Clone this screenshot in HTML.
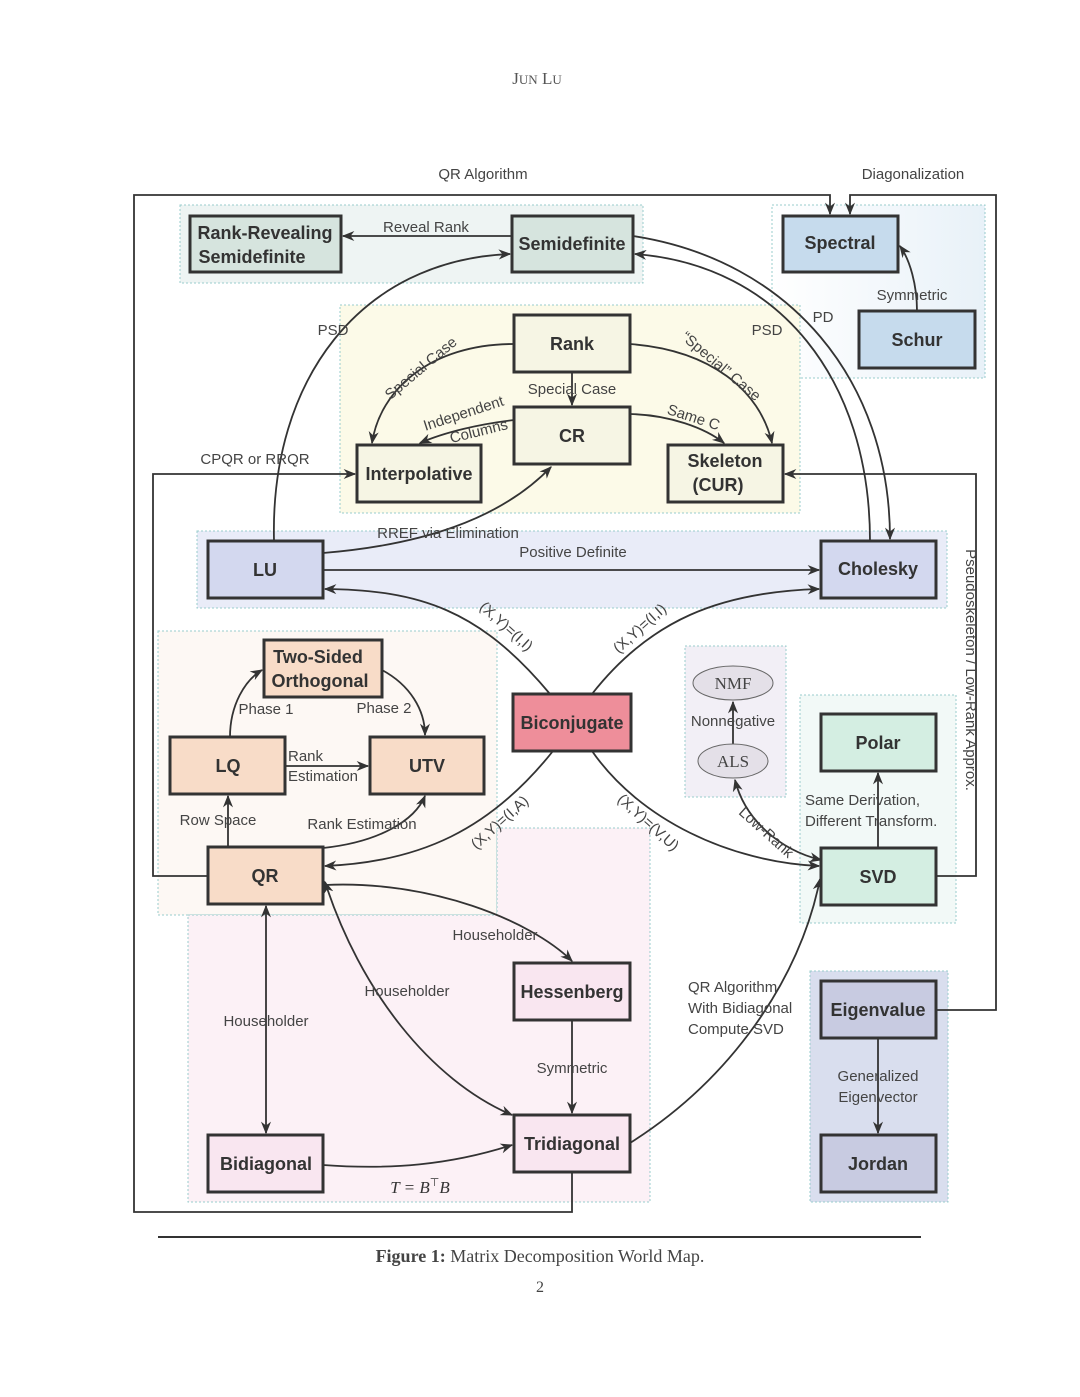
<!DOCTYPE html>
<html><head><meta charset="utf-8"><style>
html,body{margin:0;padding:0;background:#fff;}
svg{display:block;}
.n{font-family:"Liberation Sans","DejaVu Sans",sans-serif;font-weight:bold;font-size:18px;fill:#333;text-anchor:middle;}
.l{font-family:"Liberation Sans","DejaVu Sans",sans-serif;font-size:15px;fill:#444;}
.c{text-anchor:middle;}
.b{stroke:#333;stroke-width:3;}
.e{fill:none;stroke:#333;stroke-width:1.8;}
.r{stroke:#9cc;stroke-width:1;stroke-dasharray:2,2;}
</style></head><body>
<svg width="1080" height="1397" viewBox="0 0 1080 1397" xmlns="http://www.w3.org/2000/svg">
<defs>
<marker id="a" viewBox="0 0 10 10" refX="9" refY="5" markerWidth="7" markerHeight="7" orient="auto-start-reverse"><path d="M0,1 L10,5 L0,9 L3,5 z" fill="#333"/></marker>
<linearGradient id="gs" x1="0" x2="1"><stop offset="0" stop-color="#fff"/><stop offset="1" stop-color="#e8f1f8"/></linearGradient>
</defs>
<text x="537" y="84" style="font-family:'Liberation Serif',serif;font-size:17px;fill:#555" text-anchor="middle">J<tspan font-size="13">UN</tspan> L<tspan font-size="13">U</tspan></text>

<!-- regions -->
<rect x="180" y="205" width="463" height="78" fill="#eef4f3" class="r"/>
<rect x="772" y="205" width="213" height="173" fill="url(#gs)" class="r"/>
<rect x="340" y="305" width="460" height="208" fill="#fcfae8" class="r"/>
<rect x="197" y="531" width="750" height="77" fill="#e9ecf8" class="r"/>
<rect x="158" y="631" width="339" height="284" fill="#fdf8f4" class="r"/>
<path d="M497,828 H650 V1202 H188 V915 H497 Z" fill="#fcf1f6" class="r"/>
<rect x="685" y="646" width="101" height="151" fill="#f2eff6" class="r"/>
<rect x="800" y="695" width="156" height="228" fill="#f2f9f7" class="r"/>
<rect x="810" y="971" width="138" height="231" fill="#d9deee" class="r"/>

<!-- outer lines -->
<path class="e" d="M572,1172 V1212 H134 V195 H830 V214" marker-end="url(#a)"/>
<path class="e" d="M936,1010 H996 V195 H850 V214" marker-end="url(#a)"/>
<path class="e" d="M936,876 H976 V474 H785" marker-end="url(#a)"/>
<path class="e" d="M208,876 H153 V474 H355" marker-end="url(#a)"/>

<!-- edges -->
<path class="e" d="M512,236 H343" marker-end="url(#a)"/>
<path class="e" d="M274,541 C270,380 360,260 510,254" marker-end="url(#a)"/>
<path class="e" d="M633,236 C790,260 890,380 890,539" marker-end="url(#a)"/>
<path class="e" d="M870,541 C870,380 780,265 635,254" marker-end="url(#a)"/>
<path class="e" d="M917,311 C917,285 910,260 900,246" marker-end="url(#a)"/>
<path class="e" d="M514,344 C430,344 380,390 372,443" marker-end="url(#a)"/>
<path class="e" d="M572,372 V405" marker-end="url(#a)"/>
<path class="e" d="M514,420 C480,424 445,432 420,443" marker-end="url(#a)"/>
<path class="e" d="M630,344 C710,350 760,390 772,443" marker-end="url(#a)"/>
<path class="e" d="M630,414 C670,415 705,428 724,443" marker-end="url(#a)"/>
<path class="e" d="M323,553 C420,545 500,520 551,467" marker-end="url(#a)"/>
<path class="e" d="M323,570 H819" marker-end="url(#a)"/>
<path class="e" d="M550,694 C480,610 420,590 325,589" marker-end="url(#a)"/>
<path class="e" d="M592,694 C650,620 720,592 819,589" marker-end="url(#a)"/>
<path class="e" d="M553,751 C490,830 420,862 325,866" marker-end="url(#a)"/>
<path class="e" d="M592,751 C640,820 730,862 819,866" marker-end="url(#a)"/>
<path class="e" d="M230,737 C230,705 245,680 262,670" marker-end="url(#a)"/>
<path class="e" d="M382,670 C410,685 425,710 425,735" marker-end="url(#a)"/>
<path class="e" d="M285,766 H368" marker-end="url(#a)"/>
<path class="e" d="M228,847 V796" marker-end="url(#a)"/>
<path class="e" d="M323,848 C380,842 415,820 425,796" marker-end="url(#a)"/>
<path class="e" d="M325,885 C430,880 530,920 572,961" marker-end="url(#a)"/>
<path class="e" d="M325,882 C360,990 430,1080 512,1115" marker-start="url(#a)" marker-end="url(#a)"/>
<path class="e" d="M266,906 V1133" marker-start="url(#a)" marker-end="url(#a)"/>
<path class="e" d="M572,1020 V1113" marker-end="url(#a)"/>
<path class="e" d="M323,1165 C390,1170 450,1165 512,1145" marker-end="url(#a)"/>
<path class="e" d="M630,1143 C730,1080 800,980 820,879" marker-end="url(#a)"/>
<path class="e" d="M733,744 V702" marker-end="url(#a)"/>
<path class="e" d="M821,860 C780,850 745,820 735,780" marker-start="url(#a)" marker-end="url(#a)"/>
<path class="e" d="M878,848 V773" marker-end="url(#a)"/>
<path class="e" d="M878,1038 V1133" marker-end="url(#a)"/>

<!-- nodes -->
<g class="b">
<rect x="190" y="216" width="151" height="56" fill="#d6e4de"/>
<rect x="512" y="216" width="121" height="56" fill="#d6e4de"/>
<rect x="783" y="216" width="115" height="56" fill="#c6dbed"/>
<rect x="859" y="311" width="116" height="57" fill="#c6dbed"/>
<rect x="514" y="315" width="116" height="57" fill="#f6f5e4"/>
<rect x="514" y="407" width="116" height="57" fill="#f6f5e4"/>
<rect x="357" y="445" width="124" height="57" fill="#f6f5e4"/>
<rect x="668" y="445" width="115" height="57" fill="#f6f5e4"/>
<rect x="208" y="541" width="115" height="57" fill="#d3d8ef"/>
<rect x="821" y="541" width="115" height="57" fill="#d3d8ef"/>
<rect x="264" y="640" width="118" height="57" fill="#f8dcc8"/>
<rect x="170" y="737" width="115" height="57" fill="#f8dcc8"/>
<rect x="370" y="737" width="114" height="57" fill="#f8dcc8"/>
<rect x="513" y="694" width="118" height="57" fill="#ee8e9a"/>
<rect x="821" y="714" width="115" height="57" fill="#d4eee2"/>
<rect x="821" y="848" width="115" height="57" fill="#d4eee2"/>
<rect x="208" y="847" width="115" height="57" fill="#f8dcc8"/>
<rect x="514" y="963" width="116" height="57" fill="#f9e6f0"/>
<rect x="514" y="1115" width="116" height="57" fill="#f9e6f0"/>
<rect x="208" y="1135" width="115" height="57" fill="#f9e6f0"/>
<rect x="821" y="981" width="115" height="57" fill="#c8cbe1"/>
<rect x="821" y="1135" width="115" height="57" fill="#c8cbe1"/>
</g>
<ellipse cx="733" cy="683" rx="40" ry="17" fill="#e4e0e8" stroke="#666" stroke-width="1"/>
<ellipse cx="733" cy="761" rx="35" ry="17" fill="#e4e0e8" stroke="#666" stroke-width="1"/>

<text class="n" x="265" y="239">Rank-Revealing</text><text class="n" x="252" y="263">Semidefinite</text>
<text class="n" x="572" y="250">Semidefinite</text>
<text class="n" x="840" y="249">Spectral</text>
<text class="n" x="917" y="346">Schur</text>
<text class="n" x="572" y="350">Rank</text>
<text class="n" x="572" y="442">CR</text>
<text class="n" x="419" y="480">Interpolative</text>
<text class="n" x="725" y="467">Skeleton</text><text class="n" x="718" y="491">(CUR)</text>
<text class="n" x="265" y="576">LU</text>
<text class="n" x="878" y="575">Cholesky</text>
<text class="n" x="318" y="663">Two-Sided</text><text class="n" x="320" y="687">Orthogonal</text>
<text class="n" x="228" y="772">LQ</text>
<text class="n" x="427" y="772">UTV</text>
<text class="n" x="572" y="729">Biconjugate</text>
<text class="n" x="878" y="749">Polar</text>
<text class="n" x="878" y="883">SVD</text>
<text class="n" x="265" y="882">QR</text>
<text class="n" x="572" y="998">Hessenberg</text>
<text class="n" x="572" y="1150">Tridiagonal</text>
<text class="n" x="266" y="1170">Bidiagonal</text>
<text class="n" x="878" y="1016">Eigenvalue</text>
<text class="n" x="878" y="1170">Jordan</text>
<text x="733" y="689" text-anchor="middle" style="font-family:'Liberation Serif',serif;font-size:17px;fill:#444">NMF</text>
<text x="733" y="767" text-anchor="middle" style="font-family:'Liberation Serif',serif;font-size:17px;fill:#444">ALS</text>

<!-- labels -->
<g class="l">
<text x="483" y="179" class="c">QR Algorithm</text>
<text x="913" y="179" class="c">Diagonalization</text>
<text x="426" y="232" class="c">Reveal Rank</text>
<text x="912" y="300" class="c">Symmetric</text>
<text x="823" y="322" class="c">PD</text>
<text x="767" y="335" class="c">PSD</text>
<text x="333" y="335" class="c">PSD</text>
<text x="572" y="394" class="c">Special Case</text>
<text x="0" y="0" class="c" transform="translate(424,372) rotate(-40)">Special Case</text>
<text x="0" y="0" class="c" transform="translate(465,418) rotate(-18)">Independent</text>
<text x="0" y="0" class="c" transform="translate(480,436) rotate(-14)">Columns</text>
<text x="0" y="0" class="c" transform="translate(718,370) rotate(40)">“Special” Case</text>
<text x="0" y="0" class="c" transform="translate(692,422) rotate(18)">Same C</text>
<text x="255" y="464" class="c">CPQR or RRQR</text>
<text x="448" y="538" class="c">RREF via Elimination</text>
<text x="573" y="557" class="c">Positive Definite</text>
<text x="0" y="0" class="c" transform="translate(966,670) rotate(90)">Pseudoskeleton / Low-Rank Approx.</text>
<text x="0" y="0" class="c" transform="translate(503,630) rotate(42)">(X,Y)=(I,I)</text>
<text x="0" y="0" class="c" transform="translate(643,632) rotate(-42)">(X,Y)=(I,I)</text>
<text x="0" y="0" class="c" transform="translate(503,826) rotate(-42)">(X,Y)=(I,A)</text>
<text x="0" y="0" class="c" transform="translate(645,826) rotate(42)">(X,Y)=(V,U)</text>
<text x="0" y="0" class="c" transform="translate(763,836) rotate(42)">Low-Rank</text>
<text x="266" y="714" class="c">Phase 1</text>
<text x="384" y="713" class="c">Phase 2</text>
<text x="288" y="761">Rank</text>
<text x="288" y="781">Estimation</text>
<text x="218" y="825" class="c">Row Space</text>
<text x="362" y="829" class="c">Rank Estimation</text>
<text x="733" y="726" class="c">Nonnegative</text>
<text x="805" y="805">Same Derivation,</text>
<text x="805" y="826">Different Transform.</text>
<text x="495" y="940" class="c">Householder</text>
<text x="407" y="996" class="c">Householder</text>
<text x="266" y="1026" class="c">Householder</text>
<text x="572" y="1073" class="c">Symmetric</text>
<text x="688" y="992">QR Algorithm</text>
<text x="688" y="1013">With Bidiagonal</text>
<text x="688" y="1034">Compute SVD</text>
<text x="878" y="1081" class="c">Generalized</text>
<text x="878" y="1102" class="c">Eigenvector</text>
</g>
<text x="420" y="1193" text-anchor="middle" style="font-family:'Liberation Serif',serif;font-style:italic;font-size:17px;fill:#333">T = B<tspan font-style="normal" font-size="11" dy="-7">⊤</tspan><tspan dy="7">B</tspan></text>

<line x1="158" y1="1237" x2="921" y2="1237" stroke="#333" stroke-width="2"/>
<text x="540" y="1262" text-anchor="middle" style="font-family:'Liberation Serif',serif;font-size:18px;fill:#444"><tspan font-weight="bold">Figure 1:</tspan> Matrix Decomposition World Map.</text>
<text x="540" y="1292" text-anchor="middle" style="font-family:'Liberation Serif',serif;font-size:16px;fill:#444">2</text>
</svg>
</body></html>
